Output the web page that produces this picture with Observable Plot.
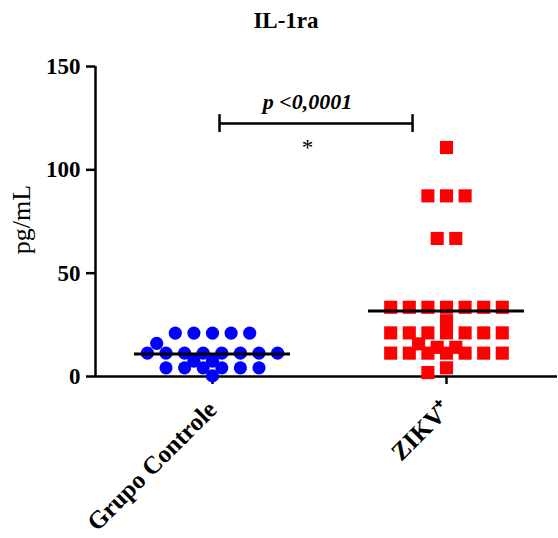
<!DOCTYPE html>
<html>
<head>
<meta charset="utf-8">
<script src="https://cdn.jsdelivr.net/npm/d3@7"></script>
<script src="https://cdn.jsdelivr.net/npm/@observablehq/plot@0.6"></script>
<style>
  body { margin: 0; background: #fff; }
  #wrap { position: relative; width: 558px; height: 538px; }
  #title { position: absolute; left: 0; top: 8px; width: 572px; text-align: center;
           font: bold 23px "Liberation Serif", serif; color: #000; }
  #chart { position: absolute; left: 0; top: 0; }
</style>
</head>
<body>
<div id="wrap">
  <div id="chart"></div>
  <div id="title">IL-1ra</div>
</div>
<script>
// ---- data ----
const groups = ["Grupo Controle", "ZIKV+"];
const tickLabels = ["Grupo Controle", "ZIKV\u207A"];
const controleValues = [21, 21, 21, 21, 21, 16, 11.3, 11.3, 11.3, 11.3, 11.3, 11.3, 11.3, 11.3,
                        7.4, 7.4, 4.2, 4.2, 4.2, 4.2, 4.2, 4.2, 0.3];
const zikvValues = [110.8, 87.4, 87.4, 87.4, 66.8, 66.8, 33.5, 33.5, 33.5, 33.5, 33.5, 33.5, 33.5,
                    27, 21.1, 21.1, 21.1, 21.1, 21.1, 21.1, 21.1, 15.8, 14.1, 14.1,
                    11.3, 11.3, 11.3, 11.3, 11.3, 11.3, 11.3, 4.2, 1.9];
const yTicks = [0, 50, 100, 150];
const yLabel = "pg/mL";
const pLabel = "p <0,0001";
const starLabel = "*";
const bracketX = [0.03, 0.855];
const bracketY = 122.4;
const annotX = 0.406;

// ---- layout / scales config ----
const W = 558, H = 538;
const mL = 95, mR = 1, mT = 66, mB = 162;
const xDomain = [-0.5, 1.4744];
const yDomain = [0, 150];
const pxPerX = (W - mL - mR) / (xDomain[1] - xDomain[0]);
const yPx = d3.scaleLinear(yDomain, [H - mB, mT]);

// simple row-based scatter-dot layout (like a column scatter plot)
function swarm(values, gi, group) {
  const s = 18.6, t = 10.5;
  const rows = d3.groups(values, v => v);
  rows.sort((a, b) => b[1].length - a[1].length || b[0] - a[0]);
  const placed = [];
  const out = [];
  for (const [v, arr] of rows) {
    const n = arr.length, py = yPx(v);
    const base = d3.range(n).map(i => (i - (n - 1) / 2) * s);
    for (let k = 0; k < 60; k++) {
      const c = k === 0 ? 0 : (k % 2 ? -1 : 1) * Math.ceil(k / 2) * s / 2;
      const xs = base.map(b => b + c);
      if (xs.every(x => placed.every(p => Math.hypot(p.x - x, p.y - py) >= t))) {
        for (const x of xs) {
          placed.push({x, y: py});
          out.push({group, value: v, x: gi + x / pxPerX});
        }
        break;
      }
    }
  }
  return out;
}

const controlePts = swarm(controleValues, 0, groups[0]);
const zikvPts = swarm(zikvValues, 1, groups[1]);
const means = [
  {gi: 0, mean: d3.mean(controleValues)},
  {gi: 1, mean: d3.mean(zikvValues)}
];
const halfLine = 78 / pxPerX;

const chart = Plot.plot({
  width: W, height: H,
  marginLeft: mL, marginRight: mR, marginTop: mT, marginBottom: mB,
  x: {domain: xDomain},
  y: {domain: yDomain},
  style: {fontFamily: "'Liberation Serif', serif", fontWeight: "bold", fontSize: "23px", color: "#000", background: "#fff"},
  marks: [
    Plot.axisY({ticks: yTicks, tickSize: 9, tickPadding: 6, strokeWidth: 2.5, label: null, fontSize: 23, tickFormat: d => String(d)}),
    Plot.axisX({ticks: [0, 1], tickSize: 8, tickPadding: 21, tickRotate: -45, strokeWidth: 2.5, label: null, fontSize: 25,
                tickFormat: d => tickLabels[d]}),
    Plot.ruleY([0], {strokeWidth: 2.5, stroke: "#000"}),
    Plot.ruleX([xDomain[0]], {y1: yDomain[0], y2: yDomain[1], strokeWidth: 2.5, stroke: "#000"}),
    Plot.dot(controlePts, {x: "x", y: "value", r: 6.6, fill: "#0000FF", symbol: "circle"}),
    Plot.dot(zikvPts, {x: "x", y: "value", r: 7.4, fill: "#FF0000", symbol: "square"}),
    Plot.ruleY(means, {y: "mean", x1: d => d.gi - halfLine, x2: d => d.gi + halfLine, stroke: "#000", strokeWidth: 3}),
    Plot.ruleY([bracketY], {x1: bracketX[0], x2: bracketX[1], stroke: "#000", strokeWidth: 2.5}),
    Plot.ruleX(bracketX, {y1: bracketY - 4.3, y2: bracketY + 4.3, stroke: "#000", strokeWidth: 2.5}),
    Plot.text([pLabel], {x: annotX, y: 133, text: d => d, fontStyle: "italic", fontWeight: "bold", fontSize: 22}),
    Plot.text([starLabel], {x: annotX, y: 110.9, text: d => d, fontWeight: "normal", fontSize: 23}),
    Plot.text([yLabel], {frameAnchor: "left", dx: -74, dy: -2, rotate: -90, textAnchor: "middle", text: d => d, fontWeight: "normal", fontSize: 26})
  ]
});
document.getElementById("chart").appendChild(chart);
</script>
</body>
</html>
